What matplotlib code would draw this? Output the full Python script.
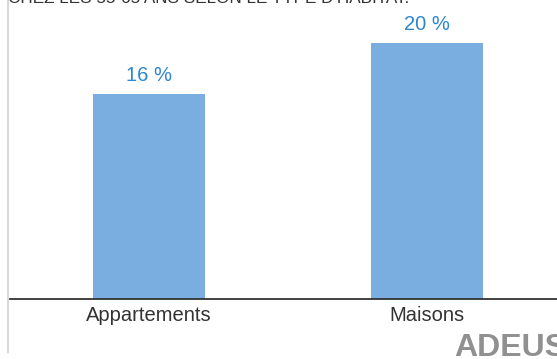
import matplotlib.pyplot as plt
import matplotlib.lines as mlines

categories = ['Appartements', 'Maisons']
values = [16, 20]
value_labels = ['16 %', '20 %']

W, H = 557, 359
fig = plt.figure(figsize=(W / 100, H / 100), dpi=100)

# axes: baseline at y=299 px, one category every 278 px
ax = fig.add_axes([10 / W, (H - 299) / H, 556 / W, 299 / H])
ax.set_xlim(-0.5, 1.5)
ax.set_ylim(0, 299 / 12.8)

bars = ax.bar(range(len(categories)), values, width=0.4, color='#7aaee0', zorder=2)
for b, lab in zip(bars, value_labels):
    ax.text(b.get_x() + b.get_width() / 2, b.get_height() + 0.7, lab,
            ha='center', va='bottom', color='#2e86d0', fontsize=14.5,
            family='Liberation Sans')

ax.set_xticks(range(len(categories)))
ax.set_xticklabels(categories, fontsize=14.5, color='#333333', family='Liberation Sans')
ax.tick_params(axis='x', length=0, pad=5)
ax.set_yticks([])
for s in ['top', 'right', 'left']:
    ax.spines[s].set_visible(False)
ax.spines['bottom'].set_color('#333333')
ax.spines['bottom'].set_linewidth(1.3)

# light vertical rule on the left
fig.add_artist(mlines.Line2D([8 / W, 8 / W], [(H - 352) / H, 1], color='#d8d8d8', lw=1.5))

# chart title, running off the top edge
fig.text(8 / W, (H - 3) / H, "CHEZ LES 55-65 ANS SELON LE TYPE D'HABITAT.",
         ha='left', va='baseline', fontsize=12.3, color='#333333', family='Liberation Sans')

# logo
fig.text(454 / W, (H - 356) / H, 'ADEUS', ha='left', va='baseline', fontsize=23,
         fontweight='bold', color='#909090', family='Liberation Sans')

fig.savefig('out.png', dpi=100)
